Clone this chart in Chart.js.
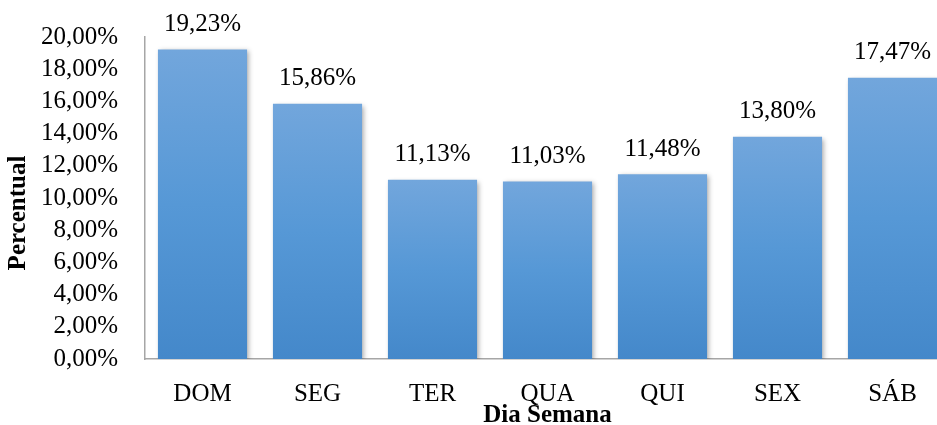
<!DOCTYPE html>
<html>
<head>
<meta charset="utf-8">
<script src="https://cdn.jsdelivr.net/npm/chart.js@4/dist/chart.umd.min.js"></script>
<style>
  html, body { margin:0; padding:0; background:#fff; overflow:hidden; }
  #wrap { width:937px; height:425px; overflow:hidden; position:relative; }
  canvas { display:block; }
</style>
</head>
<body>
<div id="wrap"><canvas id="c" width="950" height="425"></canvas></div>
<script>
const categories = ['DOM', 'SEG', 'TER', 'QUA', 'QUI', 'SEX', 'SÁB'];
const percentValues = [19.23, 15.86, 11.13, 11.03, 11.48, 13.80, 17.47];
const yTickValues = [0, 2, 4, 6, 8, 10, 12, 14, 16, 18, 20];
const yTitleText = 'Percentual';
const xTitleText = 'Dia Semana';

const FONT = "'Liberation Serif', 'Times New Roman', serif";
const fmt = v => v.toFixed(2).replace('.', ',') + '%';

const shadowPlugin = {
  id: 'barShadow',
  beforeDatasetsDraw(chart) {
    const ctx = chart.ctx;
    ctx.save();
    ctx.shadowColor = 'rgba(0,0,0,0.35)';
    ctx.shadowBlur = 5;
    ctx.shadowOffsetX = 2;
    ctx.shadowOffsetY = 2;
  },
  afterDatasetsDraw(chart) {
    chart.ctx.restore();
  }
};

const labelPlugin = {
  id: 'valueLabels',
  afterDraw(chart) {
    const ctx = chart.ctx;
    const meta = chart.getDatasetMeta(0);
    ctx.save();
    ctx.font = '25px ' + FONT;
    ctx.fillStyle = '#000';
    ctx.textAlign = 'center';
    ctx.textBaseline = 'middle';
    meta.data.forEach((bar, i) => {
      ctx.fillText(fmt(percentValues[i]), bar.x, bar.y - 25);
    });
    // y axis title, centred on the whole figure height as in the reference
    ctx.font = 'bold 25px ' + FONT;
    ctx.translate(19, 213);
    ctx.rotate(-Math.PI / 2);
    ctx.fillText(yTitleText, 0, 0);
    ctx.restore();
  }
};

function barGradient(context) {
  const chart = context.chart;
  const ys = chart.scales && chart.scales.y;
  if (!ys || context.type !== 'data') return '#5b9bd5';
  const v = context.parsed ? context.parsed.y : percentValues[context.dataIndex];
  const top = ys.getPixelForValue(v);
  const bottom = ys.getPixelForValue(0);
  if (!isFinite(top) || !isFinite(bottom) || top === bottom) return '#5b9bd5';
  const g = chart.ctx.createLinearGradient(0, top, 0, bottom);
  g.addColorStop(0, 'rgb(114,166,220)');
  g.addColorStop(0.5, 'rgb(86,152,214)');
  g.addColorStop(1, 'rgb(68,136,202)');
  return g;
}

new Chart(document.getElementById('c'), {
  type: 'bar',
  data: {
    labels: categories,
    datasets: [{
      data: percentValues,
      backgroundColor: barGradient,
      borderWidth: 0,
      barPercentage: 0.775,
      categoryPercentage: 1.0
    }]
  },
  options: {
    responsive: false,
    animation: false,
    layout: { padding: { top: 37, right: 0, left: 0, bottom: 0 } },
    plugins: { legend: { display: false }, tooltip: { enabled: false } },
    scales: {
      x: {
        grid: { display: false, drawTicks: false },
        border: { display: true, color: '#a6a6a6', width: 1.5 },
        ticks: { color: '#000', font: { family: FONT, size: 25 }, padding: 20, maxRotation: 0 },
        title: { display: true, text: xTitleText, color: '#000',
                 font: { family: FONT, size: 25, weight: 'bold' }, padding: { top: 0, bottom: -6 } },
        afterFit(scale) { scale.height = 66; scale.paddingLeft = 0; scale.paddingRight = 0; }
      },
      y: {
        min: 0, max: 20,
        grid: { display: false, drawTicks: false },
        border: { display: true, color: '#a6a6a6', width: 1.5 },
        afterBuildTicks(scale) { scale.ticks = yTickValues.map(v => ({ value: v })); },
        ticks: { color: '#000', font: { family: FONT, size: 25 }, padding: 27, autoSkip: false,
                 callback: v => fmt(v) },
        title: { display: false },
        afterFit(scale) { scale.width = 145; scale.paddingTop = 0; scale.paddingBottom = 0; }
      }
    }
  },
  plugins: [shadowPlugin, labelPlugin]
});
</script>
</body>
</html>
